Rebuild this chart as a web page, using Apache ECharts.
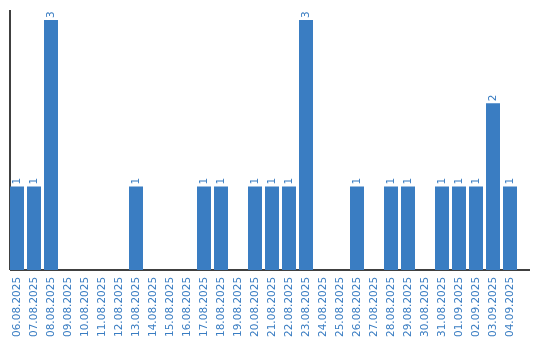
<!DOCTYPE html>
<html><head><meta charset="utf-8">
<script src="https://cdn.jsdelivr.net/npm/echarts@6/dist/echarts.min.js"></script>
<style>html,body{margin:0;padding:0;background:#fff}#c{width:540px;height:340px}</style>
</head><body><div id="c"></div>
<script>
const categories = ["06.08.2025","07.08.2025","08.08.2025","09.08.2025","10.08.2025","11.08.2025","12.08.2025","13.08.2025","14.08.2025","15.08.2025","16.08.2025","17.08.2025","18.08.2025","19.08.2025","20.08.2025","21.08.2025","22.08.2025","23.08.2025","24.08.2025","25.08.2025","26.08.2025","27.08.2025","28.08.2025","29.08.2025","30.08.2025","31.08.2025","01.09.2025","02.09.2025","03.09.2025","04.09.2025"];
const values = [1,1,3,0,0,0,0,1,0,0,0,1,1,0,1,1,1,3,0,0,1,0,1,1,0,1,1,1,2,1];
const yMax = 3.12;
const blue = '#3a7dc2';
const chart = echarts.init(document.getElementById('c'), null, {renderer:'canvas'});
chart.setOption({
  animation:false,
  grid:{left:8.5, top:10, width:510, height:260, containLabel:false},
  xAxis:{type:'category', data:categories,
    axisLine:{show:false}, axisTick:{show:false},
    axisLabel:{rotate:90, color:blue, fontFamily:'DejaVu Sans', fontSize:10.5, margin:7, interval:0}},
  yAxis:{type:'value', min:0, max:yMax, show:true,
    axisLine:{show:false}, axisTick:{show:false}, axisLabel:{show:false}, splitLine:{show:false}},
  graphic:[
    {type:'line', shape:{x1:10,y1:270,x2:530,y2:270}, style:{stroke:'#000', lineWidth:1.5}},
    {type:'line', shape:{x1:10,y1:10,x2:10,y2:270}, style:{stroke:'#000', lineWidth:1.5}}
  ],
  series:[{type:'bar', data:values.map(v=>v===0?{value:v,label:{show:false}}:v), barWidth:14, itemStyle:{color:blue},
    label:{show:true, position:'top', rotate:90, align:'left', verticalAlign:'middle', distance:2,
      color:blue, fontFamily:'DejaVu Sans', fontSize:10.5}}]
});
</script></body></html>
